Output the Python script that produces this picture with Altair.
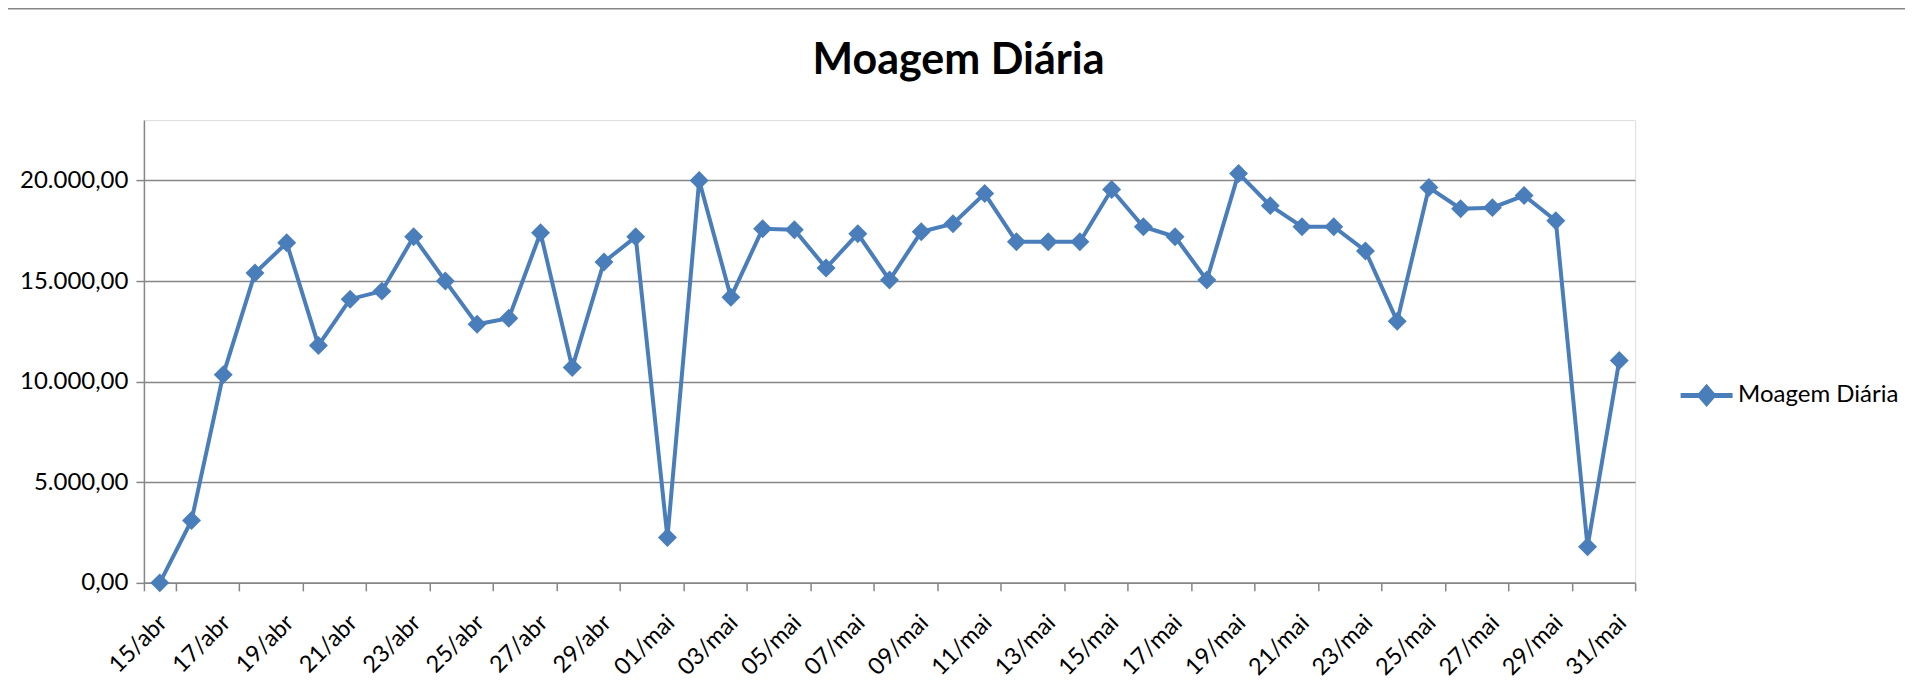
import altair as alt
import pandas as pd

datas = [
    "15/abr", "16/abr", "17/abr", "18/abr", "19/abr", "20/abr", "21/abr", "22/abr",
    "23/abr", "24/abr", "25/abr", "26/abr", "27/abr", "28/abr", "29/abr", "30/abr",
    "01/mai", "02/mai", "03/mai", "04/mai", "05/mai", "06/mai", "07/mai", "08/mai",
    "09/mai", "10/mai", "11/mai", "12/mai", "13/mai", "14/mai", "15/mai", "16/mai",
    "17/mai", "18/mai", "19/mai", "20/mai", "21/mai", "22/mai", "23/mai", "24/mai",
    "25/mai", "26/mai", "27/mai", "28/mai", "29/mai", "30/mai", "31/mai",
]
moagem = [
    0, 3100, 10350, 15400, 16900, 11800, 14100, 14500,
    17200, 15000, 12850, 13150, 17400, 10700, 15950, 17200,
    2250, 20000, 14200, 17600, 17550, 15650, 17350, 15050,
    17450, 17850, 19350, 16950, 16950, 16950, 19550, 17700,
    17200, 15050, 20350, 18750, 17700, 17700, 16500, 13000,
    19650, 18600, 18650, 19250, 18000, 1800, 11050,
]
rotulos_x = datas[::2]
ticks_y = [0, 5000, 10000, 15000, 20000]
serie = "Moagem Diária"

df = pd.DataFrame({"Data": datas, "Moagem": moagem, "Serie": [serie] * len(datas)})

BLUE = "#4A7EBB"
GRAY = "#868686"
FONT = "Lato"

x_enc = alt.X(
    "Data:N", sort=datas, bandPosition=0.5, title=None,
    scale=alt.Scale(type="band", paddingInner=0, paddingOuter=0),
    axis=alt.Axis(
        values=rotulos_x, tickBand="extent", labelAngle=-45, labelAlign="right",
        labelBaseline="middle", labelPadding=28, labelOffset=3, tickSize=8,
        tickColor=GRAY, domainColor=GRAY, domainWidth=1.5, tickWidth=1.5,
        labelFont=FONT, labelFontSize=23.5, labelColor="#000", grid=False,
        labelOverlap=False,
    ),
)
y_enc = alt.Y(
    "Moagem:Q", title=None,
    scale=alt.Scale(domain=[0, 23000], nice=False, zero=True),
    axis=alt.Axis(
        values=ticks_y,
        labelExpr="replace(replace(replace(format(datum.value, ',.2f'), ',', '#'), '.', ','), '#', '.')",
        tickSize=8, tickColor=GRAY, domainColor=GRAY, domainWidth=1.5, tickWidth=1.5,
        grid=True, gridColor=GRAY, gridWidth=1.5, labelPadding=8,
        labelFont=FONT, labelFontSize=24, labelColor="#000",
    ),
)

legend_path = "M-1,0L1,0M-0.26,0L0,-0.3L0.26,0L0,0.3Z"

line = alt.Chart(df).mark_line(strokeWidth=4).encode(
    x=x_enc, y=y_enc,
    color=alt.Color(
        "Serie:N", scale=alt.Scale(range=[BLUE]),
        legend=alt.Legend(
            title=None, orient="none", legendX=1535, legendY=247,
            symbolType=legend_path, symbolSize=2704, symbolStrokeWidth=5,
            symbolFillColor=BLUE, symbolStrokeColor=BLUE, symbolOpacity=1,
            labelFont=FONT, labelFontSize=24, labelColor="#000",
            labelOffset=3, labelLimit=400, padding=0,
        ),
    ),
)
points = alt.Chart(df).mark_point(
    shape="diamond", filled=True, size=360, color=BLUE, opacity=1
).encode(x=x_enc, y=y_enc)

border = alt.Chart(alt.Data(values=[{"b": 1}])).mark_rect(
    fill="transparent", stroke="#878787", strokeWidth=2.5
).encode(
    x=alt.value(-142.7), x2=alt.value(1780),
    y=alt.value(-112), y2=alt.value(600),
)

chart = alt.layer(border, line, points).properties(
    width=1492, height=463,
    title=alt.TitleParams(
        serie, font=FONT, fontSize=43, fontWeight="bold", color="#000",
        anchor="middle", frame="group", dx=69, offset=-110, baseline="alphabetic",
    ),
    autosize=alt.AutoSizeParams(type="none"),
    padding={"left": 136, "top": 112, "right": 270, "bottom": 98},
).configure_view(stroke=None).configure(background="white")

chart.save("out.html", embed_options={"renderer": "svg", "actions": False})
